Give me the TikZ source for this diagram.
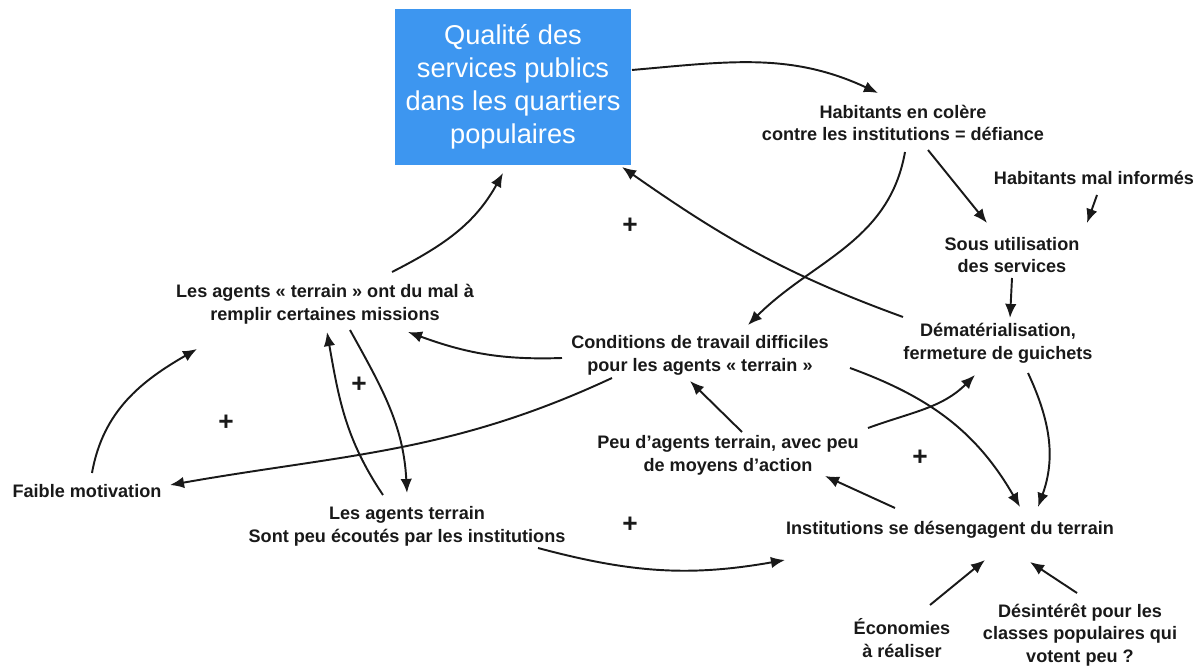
\documentclass[tikz,border=0pt]{standalone}
\usepackage{fontspec}
\setmainfont{Liberation Sans}
\usetikzlibrary{arrows.meta,calc}
\definecolor{boxblue}{RGB}{61,150,240}
\tikzset{
  lbl/.style={font=\fontsize{10.3}{13}\selectfont\bfseries, align=center, text=black!90, inner sep=0pt},
  arr/.style={-{Latex[length=8pt,width=6.5pt]}, line width=1.1pt, draw=black!90},
  sgn/.style={font=\fontsize{15}{15}\selectfont\bfseries, text=black!90, inner sep=0pt}
}

\begin{document}
\begin{tikzpicture}[x=0.02cm,y=0.02cm]
    \useasboundingbox (0,0) rectangle (1200,669);

    % main variable
    \node[fill=boxblue, text=white, minimum width=4.74cm, minimum height=3.12cm, align=center,
          font=\fontsize{15.5}{18.7}\selectfont, inner sep=0pt] (qualite) at (513,582)
          {Qualité des\\services publics\\dans les quartiers\\populaires};

    % causes and effects
    \node[lbl] (colere) at (903,546) {Habitants en colère\\contre les institutions = défiance};
    \node[lbl] (malinf) at (1094,491) {Habitants mal informés};
    \node[lbl] (sousutil) at (1012,414) {Sous utilisation\\des services};
    \node[lbl] (demat) at (998,326) {Dématérialisation,\\fermeture de guichets};
    \node[lbl] (conditions) at (700,314) {Conditions de travail difficiles\\pour les agents « terrain »};
    \node[lbl] (missions) at (325,365) {Les agents « terrain » ont du mal à\\remplir certaines missions};
    \node[lbl] (peuagents) at (728,214) {Peu d’agents terrain, avec peu\\de moyens d’action};
    \node[lbl] (motivation) at (87,178) {Faible motivation};
    \node[lbl] (ecoutes) at (407,143) {Les agents terrain\\Sont peu écoutés par les institutions};
    \node[lbl] (desengage) at (950,139) {Institutions se désengagent du terrain};
    \node[lbl] (economies) at (902,31) {Économies\\à réaliser};
    \node[lbl] (desinteret) at (1080,34) {Désintérêt pour les\\classes populaires qui\\votent peu ?};

    % loop signs
    \foreach \pos [count=\i] in {(630,443),(359,284),(226,246),(920,211),(630,144)}
    {
     \node[sgn] (plus\i) at \pos {+};
    }

    % top loop
    \draw[arr] ($(qualite)+(119,17)$) to[out=5,in=155] ($(colere)+(-25,30)$);
    \draw[arr] ($(colere)+(25,-27)$) -- ($(sousutil)+(-25,32)$);
    \draw[arr] ($(colere)+(2,-29)$) to[out=-100,in=45] ($(conditions)+(48,30)$);
    \draw[arr] ($(malinf)+(3,-17)$) -- ($(sousutil)+(75,32)$);
    \draw[arr] ($(sousutil)+(0,-23)$) -- ($(demat)+(12,25)$);
    \draw[arr] ($(demat)+(-95,26)$) to[out=160,in=-35] ($(qualite)+(109,-80)$);

    % agents
    \draw[arr] ($(conditions)+(-138,-3)$) to[out=182,in=-20] ($(missions)+(83,-28)$);
    \draw[arr] ($(conditions)+(-88,-23)$) to[out=205,in=10] ($(motivation)+(83,6)$);
    \draw[arr] ($(missions)+(67,32)$) to[out=27,in=-119] ($(qualite)+(-10,-86)$);
    \draw[arr] ($(motivation)+(5,18)$) to[out=80,in=-150] ($(missions)+(-128,-45)$);
    \draw[arr] ($(ecoutes)+(-24,31)$) to[out=124,in=-80] ($(missions)+(2,-28)$);
    \draw[arr] ($(missions)+(25,-26)$) to[out=-61,in=93] ($(ecoutes)+(0,33)$);
    \draw[arr] ($(ecoutes)+(131,-22)$) to[out=-15,in=190] ($(desengage)+(-165,-30)$);

    % institutions
    \draw[arr] ($(peuagents)+(14,23)$) -- ($(conditions)+(-10,-26)$);
    \draw[arr] ($(peuagents)+(140,27)$) to[out=20,in=-135] ($(demat)+(-23,-32)$);
    \draw[arr] ($(conditions)+(150,-13)$) to[out=-20,in=120] ($(desengage)+(70,23)$);
    \draw[arr] ($(demat)+(30,-30)$) to[out=-65,in=70] ($(desengage)+(88,23)$);
    \draw[arr] ($(desengage)+(-55,22)$) -- ($(peuagents)+(97,-21)$);
    \draw[arr] ($(economies)+(28,33)$) -- ($(desengage)+(35,-30)$);
    \draw[arr] ($(desinteret)+(-3,42)$) -- ($(desengage)+(80,-32)$);

\end{tikzpicture}
\end{document}
